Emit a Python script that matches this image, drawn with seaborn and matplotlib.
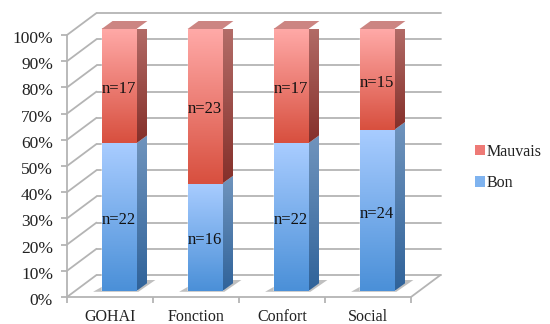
import matplotlib
matplotlib.use('Agg')
import matplotlib.pyplot as plt
from matplotlib.colors import LinearSegmentedColormap
from matplotlib.patches import Patch, Polygon
from matplotlib.transforms import ScaledTranslation
import numpy as np
import seaborn as sns

categories = ['GOHAI', 'Fonction', 'Confort', 'Social']
n_bon = [22, 16, 22, 24]
n_mauvais = [17, 23, 17, 15]
y_ticks = [0, 10, 20, 30, 40, 50, 60, 70, 80, 90, 100]

sns.set_style('white')
plt.rcParams['font.family'] = ['Liberation Serif', 'DejaVu Serif']

W, H = 550, 324
PX_X = 86.0    # pixels per category
PX_Y = 2.62    # pixels per percent
GRID = '#b4b4b4'
TXT = '#222222'


def add_axes_px(left, top, right, bottom):
    return fig.add_axes([left / W, 1 - bottom / H, (right - left) / W, (bottom - top) / H])


def gradient(ax, top_col, bot_col, x0, x1, y0, y1, clip=None, zorder=3):
    # vertical colour ramp, light on top by default
    cmap = LinearSegmentedColormap.from_list('g', [top_col, bot_col])
    im = ax.imshow(np.linspace(0, 1, 64).reshape(-1, 1), cmap=cmap, aspect='auto',
                   extent=(x0, x1, y0, y1), origin='upper', zorder=zorder, clip_on=False)
    if clip is not None:
        im.set_clip_on(True)
        im.set_clip_path(clip)
    return im


fig = plt.figure(figsize=(W / 100, H / 100), dpi=100, facecolor='white')

# front plane of the chart, walls are drawn from it
ax = add_axes_px(67, 35, 411, 297)
ax.set_xlim(-0.5, 3.5)
ax.set_ylim(0, 100)
ax.patch.set_alpha(0)
wall_dx, wall_dy = 29.5 / PX_X, 22 / PX_Y
line = dict(color=GRID, lw=1.3, clip_on=False, solid_capstyle='round', zorder=1)
for t in y_ticks:
    yb = t + wall_dy
    ax.plot([-0.5, -0.5 + wall_dx], [t, yb], **line)
    ax.plot([-0.5 + wall_dx, 3.5 + wall_dx], [yb, yb], **line)
ax.plot([3.5, 3.5 + wall_dx], [0, wall_dy], **line)

sns.despine(ax=ax, top=True, right=True)
for side in ['left', 'bottom']:
    ax.spines[side].set_color(GRID)
    ax.spines[side].set_linewidth(1.3)
ax.set_yticks(y_ticks)
ax.set_yticklabels([f'{t}%' for t in y_ticks], fontsize=12.5, color=TXT)
ax.set_xticks(range(len(categories)))
ax.set_xticklabels(categories, fontsize=11.5, color=TXT)
ax.set_xticks([-0.5, 0.5, 1.5, 2.5, 3.5], minor=True)
ax.tick_params(axis='x', which='major', length=0, pad=8.5)
ax.tick_params(axis='x', which='minor', length=4, width=1.3, color=GRID, bottom=True)
ax.tick_params(axis='y', length=4, width=1.3, color=GRID, pad=6, left=True)
shift = ScaledTranslation(0, -1.5 / 72, fig.dpi_scale_trans)
for lab in ax.get_yticklabels():
    lab.set_transform(lab.get_transform() + shift)

# bars sit a little behind the front plane
bon = np.array(n_bon, dtype=float)
mauvais = np.array(n_mauvais, dtype=float)
total = bon + mauvais
bon_pct = bon / total * 100
all_pct = (bon + mauvais) / total * 100

ax_bar = add_axes_px(76, 29, 420, 291)
ax_bar.patch.set_alpha(0)
sns.barplot(x=categories, y=all_pct, color='#ee7b76', width=0.405, saturation=1, ax=ax_bar)
sns.barplot(x=categories, y=bon_pct, color='#78aeea', width=0.405, saturation=1, ax=ax_bar)
ax_bar.set_xlim(-0.5, 3.5)
ax_bar.set_ylim(0, 100)
ax_bar.axis('off')

bar_dx, bar_dy = 11 / PX_X, 8 / PX_Y
for i, cat in enumerate(categories):
    x0 = ax_bar.patches[i].get_x()
    x1 = x0 + ax_bar.patches[i].get_width()
    mid = bon_pct[i]

    # floor shadow
    ax_bar.add_patch(Polygon([(x0 - 8.5 / PX_X, -0.3), (x1 + 2 / PX_X, -0.3), (x1 + 19 / PX_X, 11 / PX_Y),
                              (x1, 11 / PX_Y), (x0, 4 / PX_Y)],
                             closed=True, fc='#8c8c8c', ec='none', alpha=0.55, zorder=0.5, clip_on=False))

    # blue then red segment: front, side
    for low, high, front, side in [
        (0, mid, ('#a8ccff', '#4b90d8'), ('#7094bd', '#30639a')),
        (mid, 100, ('#ffa9a7', '#d8503f'), ('#b56f6b', '#85302a')),
    ]:
        gradient(ax_bar, front[0], front[1], x0, x1, low, high, zorder=3)
        poly = Polygon([(x1, low), (x1 + bar_dx, low + bar_dy), (x1 + bar_dx, high + bar_dy), (x1, high)],
                       closed=True, transform=ax_bar.transData)
        gradient(ax_bar, side[0], side[1], x1, x1 + bar_dx, low, high + bar_dy, clip=poly, zorder=2.5)

    # lid
    ax_bar.add_patch(Polygon([(x0, 100), (x1, 100), (x1 + bar_dx, 100 + bar_dy), (x0 + bar_dx, 100 + bar_dy)],
                             closed=True, fc='#cc8582', ec='none', zorder=3, clip_on=False))

    ax_bar.text(i, mid / 2 - 1.2, f'n={n_bon[i]}', ha='center', va='center', fontsize=12, color='#111111', zorder=5)
    ax_bar.text(i, (mid + 100) / 2 - 1.2, f'n={n_mauvais[i]}', ha='center', va='center', fontsize=12,
                color='#111111', zorder=5)

ax_bar.set_xlim(-0.5, 3.5)
ax_bar.set_ylim(0, 100)

handles = [Patch(fc='#ee7a76', ec='none', label='Mauvais'), Patch(fc='#7fb3ef', ec='none', label='Bon')]
leg = fig.legend(handles=handles, loc='upper left', bbox_to_anchor=(475 / W, 1 - 144 / H), frameon=False,
                 fontsize=11.5, labelcolor=TXT, handlelength=0.6, handleheight=0.6, handletextpad=0.15,
                 labelspacing=0.95, borderpad=0, borderaxespad=0)

fig.savefig('out.png', dpi=100)
